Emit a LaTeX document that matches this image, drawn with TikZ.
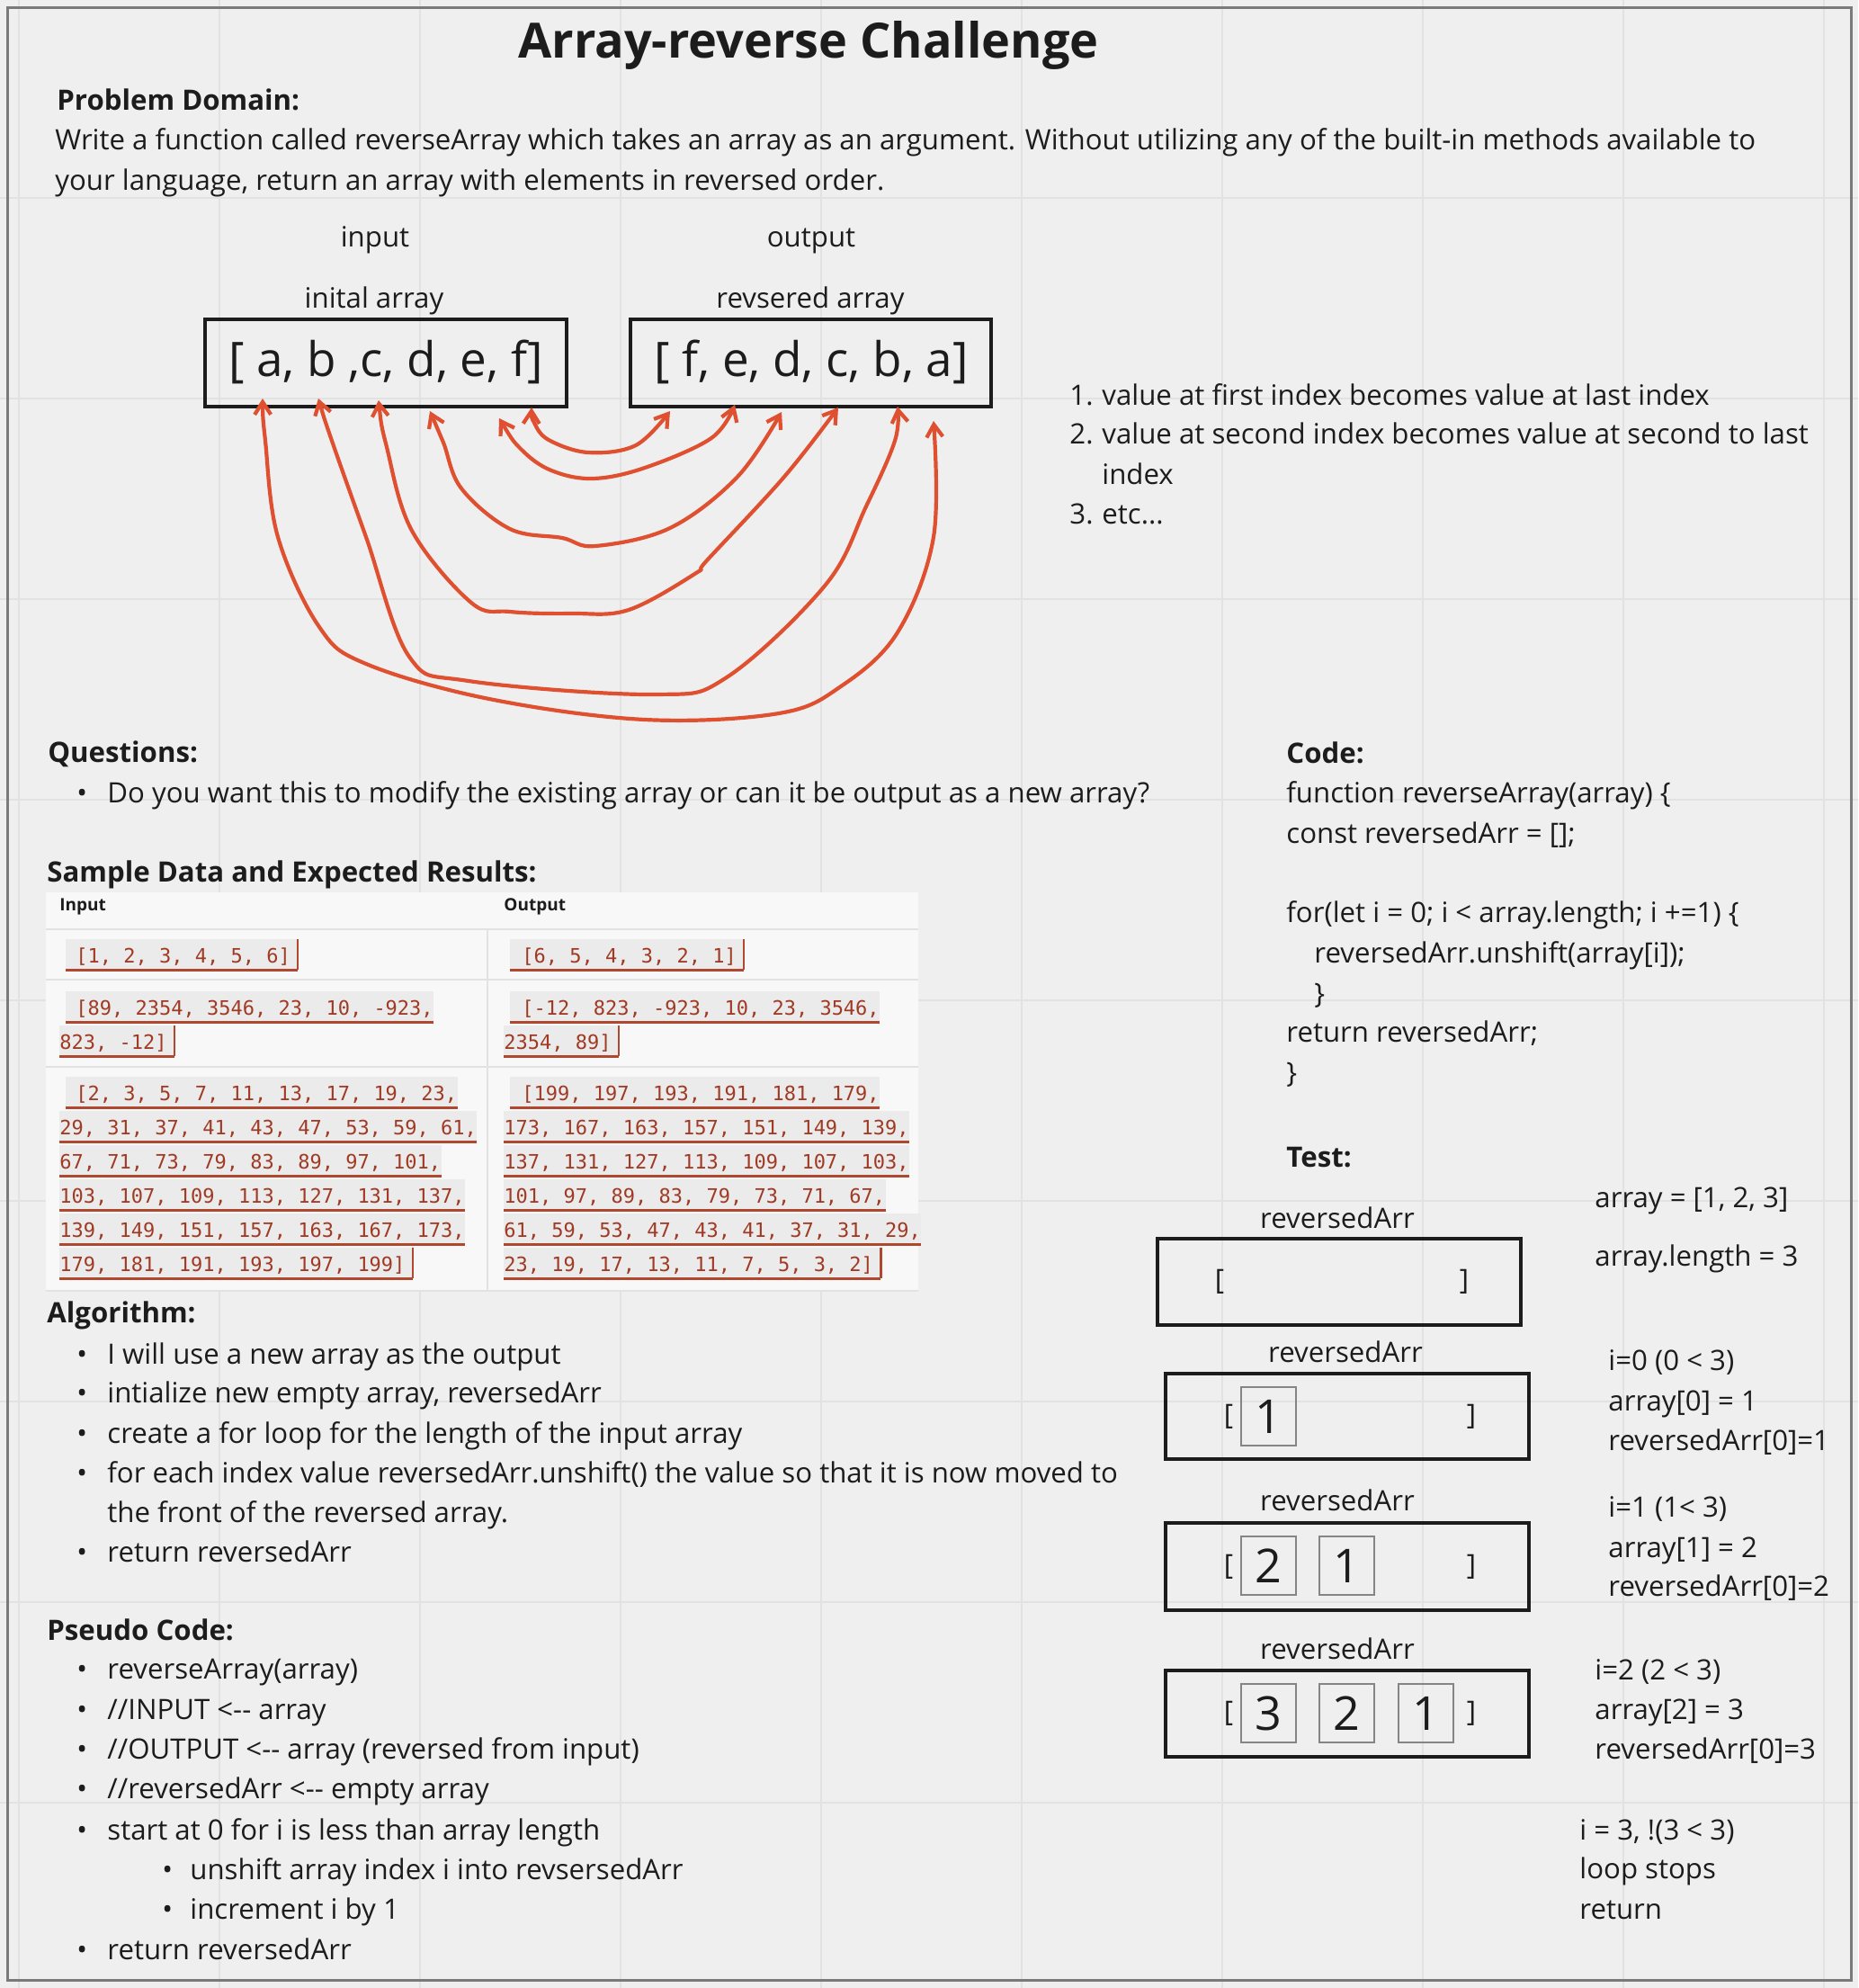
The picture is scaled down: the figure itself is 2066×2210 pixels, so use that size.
\documentclass[tikz,border=0pt]{standalone}
\usepackage{fontspec}
\setmainfont{Open Sans}
\newfontfamily\codefont{DejaVu Sans Mono}
\usetikzlibrary{arrows.meta}
\pgfdeclarelayer{back0}
\pgfdeclarelayer{codeback}
\pgfsetlayers{back0,codeback,main}
\definecolor{pagebg}{HTML}{EFEFEF}
\definecolor{gridc}{HTML}{E2E2E2}
\definecolor{framec}{HTML}{7A7A7A}
\definecolor{ink}{HTML}{1C1C1C}
\definecolor{arrowc}{HTML}{DF5030}
\definecolor{tablebg}{HTML}{F8F8F8}
\definecolor{tableline}{HTML}{E2E2E2}
\definecolor{codebg}{HTML}{EBEBEB}
\definecolor{codefg}{HTML}{A03A24}
\definecolor{codeulc}{HTML}{B04830}
\definecolor{cellgray}{HTML}{858585}
\tikzset{
 txt/.style={anchor=base west, inner sep=0pt, text=ink, font=\fontsize{15.6}{18}\selectfont},
 hd/.style={txt, font=\bfseries\fontsize{15.6}{18}\selectfont},
 ctxt/.style={txt, anchor=base},
 bigbox/.style={draw=ink, line width=2pt, inner sep=0pt},
 cell/.style={draw=cellgray, line width=1pt, minimum width=30.5pt, minimum height=32.5pt, inner sep=0pt, font=\fontsize{26}{30}\selectfont, text=ink},
 brk/.style={inner sep=0pt, text=ink, font=\fontsize{15.6}{18}\selectfont},
 swap/.style={draw=arrowc, line width=2.1pt, line cap=round, line join=round, <->, >={Straight Barb[length=7pt,width=9pt]}},
 codetxt/.style={anchor=base west, inner sep=0pt, text height=13pt, text depth=4pt, text=codefg, font=\codefont\fontsize{11}{13}\selectfont},
 codeul/.style={draw=codeulc, line width=1.2pt},
 thd/.style={anchor=base west, inner sep=0pt, text=ink, font=\bfseries\fontsize{9.5}{11}\selectfont},
}
\newcommand\codeln[6]{%
  \node[codetxt] (#1) at (#2,#3) {#6};
  \begin{pgfonlayer}{codeback}
    \fill[codebg] ([xshift=-#4*0.5pt]#1.north west) rectangle ([xshift=#5*0.5pt]#1.south east);
  \end{pgfonlayer}
  \draw[codeul] ([xshift=-#4*0.5pt]#1.south west) -- ([xshift=#5*0.5pt]#1.south east);
}
\newcommand\codeend[2]{%
  \draw[codeul] ([xshift=#2*0.5pt]#1.south east) -- ([xshift=#2*0.5pt]#1.north east);
}
\begin{document}
\begin{tikzpicture}[x=0.5pt,y=-0.5pt]
\useasboundingbox (0,0) rectangle (2066,2210);
\begin{pgfonlayer}{back0}
  \fill[pagebg] (0,0) rectangle (2066,2210);
  \foreach \gx in {21,244,...,2050} \draw[gridc, line width=0.8pt] (\gx,0) -- (\gx,2210);
  \foreach \gy in {220,443,...,2210} \draw[gridc, line width=0.8pt] (0,\gy) -- (2066,\gy);
  \draw[framec, line width=1.5pt] (8,9) rectangle (2058,2201);
  % table
  \fill[tablebg] (51,992) rectangle (1021,1435);
  \foreach \ty in {1033,1089,1186,1435} \draw[tableline, line width=1pt] (51,\ty) -- (1021,\ty);
  \draw[tableline, line width=1pt] (542,1033) -- (542,1435);
\end{pgfonlayer}

% title and problem domain
\node[anchor=base, inner sep=0pt, text=ink, font=\bfseries\fontsize{27}{30}\selectfont] (title) at (899,65) {Array-reverse Challenge};
\node[hd] (pdh) at (63,123) {Problem Domain:};
\node[txt] (pd1) at (61,167) {Write a function called reverseArray which takes an array as an argument. Without utilizing any of the built-in methods available to};
\node[txt] (pd2) at (61,212) {your language, return an array with elements in reversed order.};

% input / output
\node[ctxt] (inlbl) at (417,275) {input};
\node[ctxt] (outlbl) at (902,275) {output};
\node[ctxt] (inarrl) at (416,342) {inital array};
\node[ctxt] (outarrl) at (901,342) {revsered array};
\node[bigbox, minimum width=201pt, minimum height=48.5pt] (inbox) at (429,403.5) {};
\node[bigbox, minimum width=200.5pt, minimum height=48.5pt] (outbox) at (901.5,403.5) {};
\node[anchor=base, inner sep=0pt, text=ink, font=\fontsize{26.5}{30}\selectfont] (intext) at (429,418) {[ a, b ,c, d, e, f]};
\node[anchor=base, inner sep=0pt, text=ink, font=\fontsize{26.5}{30}\selectfont] (outtext) at (902,418) {[ f, e, d, c, b, a]};

% swap arrows
\coordinate (aL) at (292,443); \coordinate (aR) at (1038,468);
\coordinate (bL) at (354,443); \coordinate (bR) at (998,452);
\coordinate (cL) at (421,445); \coordinate (cR) at (932,453);
\coordinate (dL) at (478,457); \coordinate (dR) at (869,458);
\coordinate (eL) at (555,465); \coordinate (eR) at (817,450);
\coordinate (fL) at (591,453); \coordinate (fR) at (745,457);
\draw[swap] plot[smooth, tension=0.6] coordinates {(fL) (594,470) (610,489) (654,503) (707,495) (fR)};
\draw[swap] plot[smooth, tension=0.6] coordinates {(eL) (580,500) (613,523) (659,532) (717,520) (791,487) (eR)};
\draw[swap] plot[smooth, tension=0.6] coordinates {(dL) (493,492) (513,543) (567,588) (625,598) (662,607) (745,587) (820,530) (dR)};
\draw[swap] plot[smooth, tension=0.6] coordinates {(cL) (430,497) (458,590) (524,670) (567,680) (636,682) (699,678) (774,637) (786,623) (872,530) (cR)};
\draw[swap] plot[smooth, tension=0.6] coordinates {(bL) (369,490) (407,597) (455,730) (521,757) (728,772) (808,753) (918,650) (963,563) (995,490) (bR)};
\draw[swap] plot[smooth, tension=0.6] coordinates {(aL) (295,490) (309,597) (355,697) (407,738) (544,777) (717,800) (866,793) (935,763) (998,703) (1038,597) (aR)};

% numbered list
\node[txt] (n1) at (1189,450) {1.};
\node[txt] (n1t) at (1225,450) {value at first index becomes value at last index};
\node[txt] (n2) at (1189,493) {2.};
\node[txt] (n2t) at (1225,493) {value at second index becomes value at second to last};
\node[txt] (n2u) at (1225,538) {index};
\node[txt] (n3) at (1189,582) {3.};
\node[txt] (n3t) at (1225,582) {etc...};

% questions
\node[hd] (qh) at (53,847) {Questions:};
\node[txt] (qb) at (85,892) {•};
\node[txt] (q1) at (119,892) {Do you want this to modify the existing array or can it be output as a new array?};

% sample data
\node[hd] (sdh) at (52,980) {Sample Data and Expected Results:};
\node[thd] (thin) at (66,1012) {Input};
\node[thd] (thout) at (560,1012) {Output};
\codeln{r1a}{84}{1070}{11}{8}{[1, 2, 3, 4, 5, 6]}\codeend{r1a}{8}
\codeln{r1b}{580}{1070}{13}{8}{[6, 5, 4, 3, 2, 1]}\codeend{r1b}{8}
\codeln{r2a}{84}{1128}{11}{0}{[89, 2354, 3546, 23, 10, -923,}
\codeln{r2a2}{66}{1166}{0}{8}{823, -12]}\codeend{r2a2}{8}
\codeln{r2b}{580}{1128}{13}{0}{[-12, 823, -923, 10, 23, 3546,}
\codeln{r2b2}{560}{1166}{0}{8}{2354, 89]}\codeend{r2b2}{8}
\codeln{r3a1}{84}{1223}{11}{0}{[2, 3, 5, 7, 11, 13, 17, 19, 23,}
\codeln{r3a2}{66}{1261}{0}{0}{29, 31, 37, 41, 43, 47, 53, 59, 61,}
\codeln{r3a3}{66}{1299}{0}{0}{67, 71, 73, 79, 83, 89, 97, 101,}
\codeln{r3a4}{66}{1337}{0}{0}{103, 107, 109, 113, 127, 131, 137,}
\codeln{r3a5}{66}{1375}{0}{0}{139, 149, 151, 157, 163, 167, 173,}
\codeln{r3a6}{66}{1413}{0}{8}{179, 181, 191, 193, 197, 199]}\codeend{r3a6}{8}
\codeln{r3b1}{580}{1223}{13}{0}{[199, 197, 193, 191, 181, 179,}
\codeln{r3b2}{560}{1261}{0}{0}{173, 167, 163, 157, 151, 149, 139,}
\codeln{r3b3}{560}{1299}{0}{0}{137, 131, 127, 113, 109, 107, 103,}
\codeln{r3b4}{560}{1337}{0}{0}{101, 97, 89, 83, 79, 73, 71, 67,}
\codeln{r3b5}{560}{1375}{0}{0}{61, 59, 53, 47, 43, 41, 37, 31, 29,}
\codeln{r3b6}{560}{1413}{0}{8}{23, 19, 17, 13, 11, 7, 5, 3, 2]}\codeend{r3b6}{8}

% algorithm
\node[hd] (alh) at (52,1470) {Algorithm:};
\node[txt] (ab1) at (85,1516) {•}; \node[txt] (a1) at (119,1516) {I will use a new array as the output};
\node[txt] (ab2) at (85,1559) {•}; \node[txt] (a2) at (119,1559) {intialize new empty array, reversedArr};
\node[txt] (ab3) at (85,1604) {•}; \node[txt] (a3) at (119,1604) {create a for loop for the length of the input array};
\node[txt] (ab4) at (85,1648) {•}; \node[txt] (a4) at (119,1648) {for each index value reversedArr.unshift() the value so that it is now moved to};
\node[txt] (a4b) at (119,1692) {the front of the reversed array.};
\node[txt] (ab5) at (85,1736) {•}; \node[txt] (a5) at (119,1736) {return reversedArr};

% pseudo code
\node[hd] (psh) at (52,1823) {Pseudo Code:};
\node[txt] (pb1) at (85,1866) {•}; \node[txt] (p1) at (119,1866) {reverseArray(array)};
\node[txt] (pb2) at (85,1911) {•}; \node[txt] (p2) at (119,1911) {//INPUT <{-}{-} array};
\node[txt] (pb3) at (85,1955) {•}; \node[txt] (p3) at (119,1955) {//OUTPUT <{-}{-} array (reversed from input)};
\node[txt] (pb4) at (85,1999) {•}; \node[txt] (p4) at (119,1999) {//reversedArr <{-}{-} empty array};
\node[txt] (pb5) at (85,2045) {•}; \node[txt] (p5) at (119,2045) {start at 0 for i is less than array length};
\node[txt] (pb6) at (180,2089) {•}; \node[txt] (p6) at (211,2089) {unshift array index i into revsersedArr};
\node[txt] (pb7) at (180,2133) {•}; \node[txt] (p7) at (211,2133) {increment i by 1};
\node[txt] (pb8) at (85,2178) {•}; \node[txt] (p8) at (119,2178) {return reversedArr};

% code
\node[hd] (cdh) at (1430,848) {Code:};
\node[txt] (c1) at (1430,892) {function reverseArray(array) \{};
\node[txt] (c2) at (1430,937) {const reversedArr = [];};
\node[txt] (c3) at (1430,1025) {for(let i = 0; i < array.length; i +=1) \{};
\node[txt] (c4) at (1461,1070) {reversedArr.unshift(array[i]);};
\node[txt] (c5) at (1461,1115) {\}};
\node[txt] (c6) at (1430,1158) {return reversedArr;};
\node[txt] (c7) at (1430,1203) {\}};

% test
\node[hd] (tsh) at (1430,1297) {Test:};
\node[ctxt] (lA) at (1487,1365) {reversedArr};
\node[bigbox, minimum width=202pt, minimum height=48pt] (boxA) at (1489,1425) {};
\node[brk] (bAl) at (1356,1425) {[};
\node[brk] (bAr) at (1628,1425) {]};
\node[ctxt] (lB) at (1496,1514) {reversedArr};
\node[bigbox, minimum width=202pt, minimum height=47.5pt] (boxB) at (1498,1574.5) {};
\node[brk] (bBl) at (1366,1575) {[};
\node[brk] (bBr) at (1636,1575) {]};
\node[cell] (b1) at (1410.5,1574.5) {1};
\node[ctxt] (lC) at (1487,1679) {reversedArr};
\node[bigbox, minimum width=202pt, minimum height=48.5pt] (boxC) at (1498,1741.5) {};
\node[brk] (bCl) at (1366,1742) {[};
\node[brk] (bCr) at (1636,1742) {]};
\node[cell] (c2a) at (1410.5,1740.5) {2};
\node[cell] (c1a) at (1497.5,1740.5) {1};
\node[ctxt] (lD) at (1487,1844) {reversedArr};
\node[bigbox, minimum width=202pt, minimum height=48pt] (boxD) at (1498,1905) {};
\node[brk] (bDl) at (1366,1905) {[};
\node[brk] (bDr) at (1636,1905) {]};
\node[cell] (d3) at (1410.5,1904.5) {3};
\node[cell] (d2) at (1497.5,1904.5) {2};
\node[cell] (d1) at (1585,1904.5) {1};

\node[txt] (s1) at (1773,1342) {array = [1, 2, 3]};
\node[txt] (s2) at (1773,1407) {array.length = 3};
\node[txt] (s3) at (1788,1523) {i=0 (0 < 3)};
\node[txt] (s4) at (1788,1568) {array[0] = 1};
\node[txt] (s5) at (1788,1612) {reversedArr[0]=1};
\node[txt] (s6) at (1788,1686) {i=1 (1< 3)};
\node[txt] (s7) at (1788,1731) {array[1] = 2};
\node[txt] (s8) at (1788,1774) {reversedArr[0]=2};
\node[txt] (s9) at (1773,1867) {i=2 (2 < 3)};
\node[txt] (s10) at (1773,1911) {array[2] = 3};
\node[txt] (s11) at (1773,1955) {reversedArr[0]=3};
\node[txt] (s12) at (1756,2045) {i = 3, !(3 < 3)};
\node[txt] (s13) at (1756,2088) {loop stops};
\node[txt] (s14) at (1756,2133) {return};
\end{tikzpicture}
\end{document}
